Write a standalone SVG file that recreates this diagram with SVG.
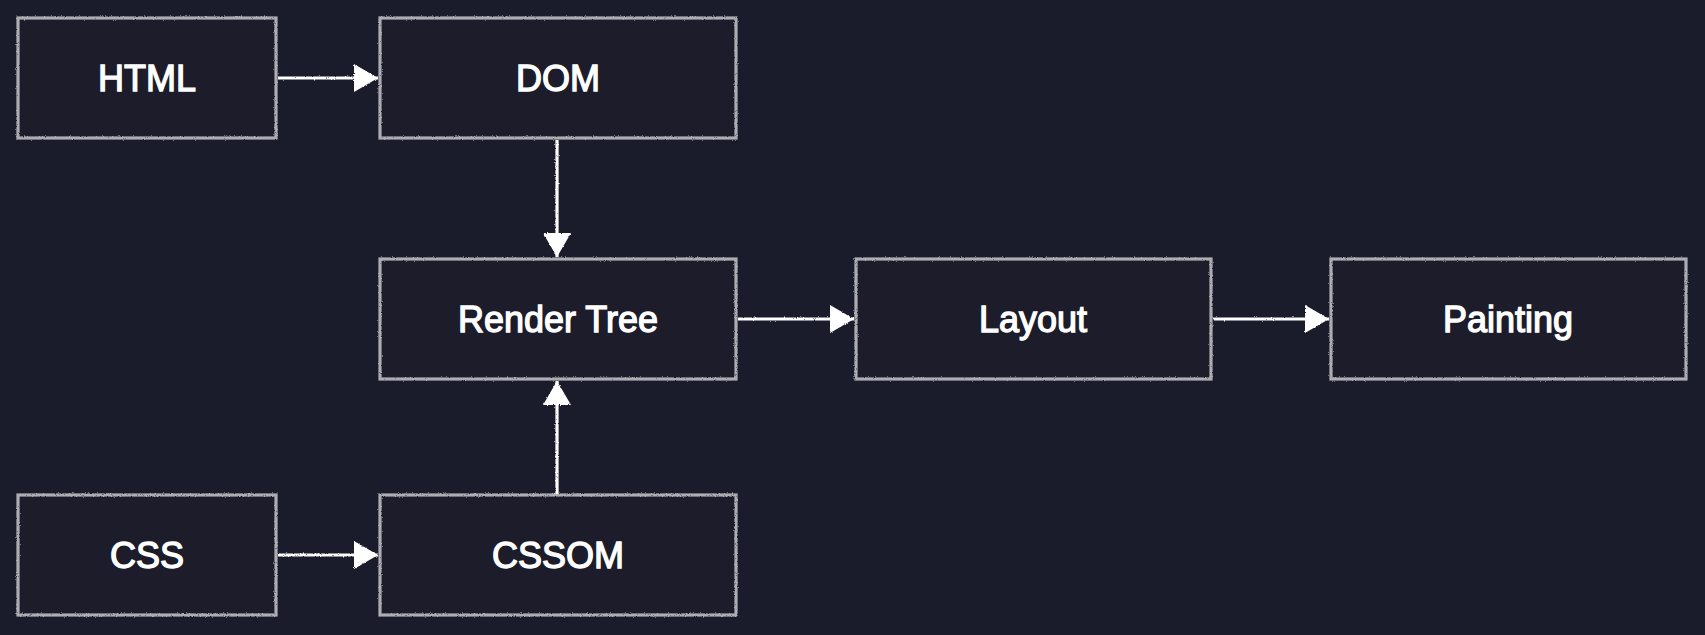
<svg xmlns="http://www.w3.org/2000/svg" width="1705" height="635" viewBox="0 0 1705 635">
  <defs>
    <filter id="rough" x="-5%" y="-5%" width="110%" height="110%">
      <feTurbulence type="fractalNoise" baseFrequency="0.9" numOctaves="2" seed="3" result="n"/>
      <feDisplacementMap in="SourceGraphic" in2="n" scale="2.4" xChannelSelector="R" yChannelSelector="G"/>
    </filter>
    <marker id="arrow" markerUnits="userSpaceOnUse" markerWidth="26" markerHeight="30" refX="24" refY="14" orient="auto">
      <path d="M0,0 L24,14 L0,28 Z" fill="#ffffff"/>
    </marker>
  </defs>
  <style>
    .box { fill: #1b1c2b; stroke: #acacb2; stroke-width: 3.2; }
    .lbl { fill: #ffffff; stroke: #ffffff; stroke-width: 1.3; font-family: "Liberation Sans", Arial, sans-serif; font-size: 36px; text-anchor: middle; }
    .edge { stroke: #ffffff; stroke-width: 3.2; fill: none; }
  </style>
  <rect width="1705" height="635" fill="#1b1c2b"/>

  <g id="node-html">
    <rect class="box" x="18" y="18" width="258" height="120" filter="url(#rough)"/>
    <text class="lbl" x="147" y="91">HTML</text>
  </g>
  <g id="node-dom">
    <rect class="box" x="380" y="18" width="356" height="120" filter="url(#rough)"/>
    <text class="lbl" x="558" y="91">DOM</text>
  </g>
  <g id="node-render">
    <rect class="box" x="380" y="259" width="356" height="120" filter="url(#rough)"/>
    <text class="lbl" x="558" y="332">Render Tree</text>
  </g>
  <g id="node-layout">
    <rect class="box" x="856" y="259" width="355" height="120" filter="url(#rough)"/>
    <text class="lbl" x="1033" y="332">Layout</text>
  </g>
  <g id="node-painting">
    <rect class="box" x="1331" y="259" width="355" height="120" filter="url(#rough)"/>
    <text class="lbl" x="1508" y="332">Painting</text>
  </g>
  <g id="node-css">
    <rect class="box" x="18" y="495" width="258" height="120" filter="url(#rough)"/>
    <text class="lbl" x="147" y="568">CSS</text>
  </g>
  <g id="node-cssom">
    <rect class="box" x="380" y="495" width="356" height="120" filter="url(#rough)"/>
    <text class="lbl" x="558" y="568">CSSOM</text>
  </g>

  <g id="connectors" filter="url(#rough)">
    <line class="edge" x1="278" y1="78" x2="378" y2="78" marker-end="url(#arrow)"/>
    <line class="edge" x1="557" y1="140" x2="557" y2="257" marker-end="url(#arrow)"/>
    <line class="edge" x1="557" y1="494" x2="557" y2="381" marker-end="url(#arrow)"/>
    <line class="edge" x1="738" y1="319" x2="854" y2="319" marker-end="url(#arrow)"/>
    <line class="edge" x1="1213" y1="319" x2="1329" y2="319" marker-end="url(#arrow)"/>
    <line class="edge" x1="278" y1="555" x2="378" y2="555" marker-end="url(#arrow)"/>
  </g>
</svg>
